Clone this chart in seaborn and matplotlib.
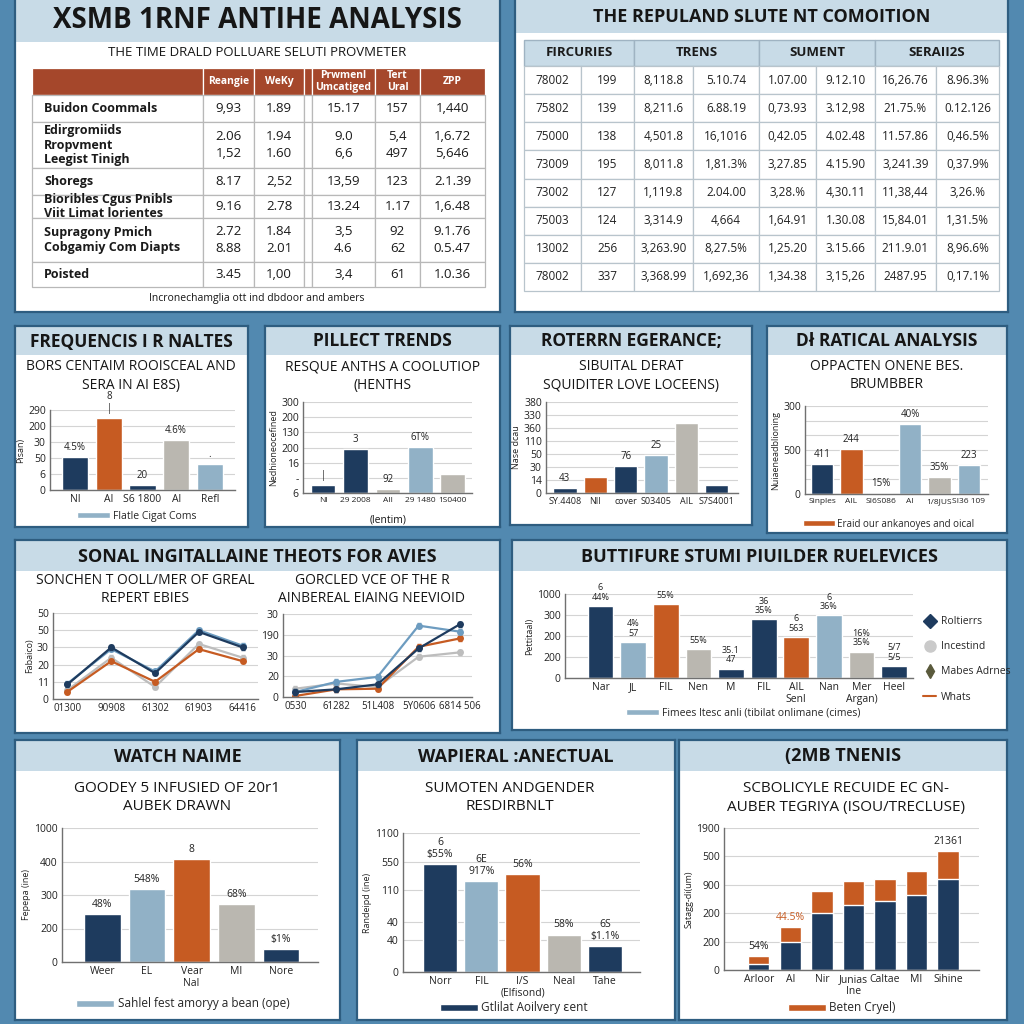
import matplotlib
matplotlib.use("Agg")
import matplotlib.pyplot as plt
from matplotlib.patches import Rectangle, Patch
from matplotlib.lines import Line2D
import pandas as pd
import seaborn as sns

# ---------------- data ----------------
# top-left table
lt_heads = ['', 'Reangie', 'WeKy', '', 'Prwmenl\nUmcatiged', 'Tert\nUral', 'ZPP']
lt_names = ['Buidon Coommals', 'Edirgromiids\nRropvment\nLeegist Tinigh', 'Shoregs',
            'Bioribles Cgus Pnibls\nViit Limat lorientes', 'Supragony Pmich\nCobgamiy Com Diapts',
            'Poisted']
lt_reangie = ['9,93', '2.06\n1,52', '8.17', '9.16', '2.72\n8.88', '3.45']
lt_weky = ['1.89', '1.94\n1.60', '2,52', '2.78', '1.84\n2.01', '1,00']
lt_prw = ['15.17', '9.0\n6,6', '13,59', '13.24', '3,5\n4.6', '3,4']
lt_tert = ['157', '5,4\n497', '123', '1.17', '92\n62', '61']
lt_zpp = ['1,440', '1,6.72\n5,646', '2.1.39', '1,6.48', '9.1.76\n0.5.47', '1.0.36']

# top-right table
rt_heads = ['FIRCURIES', 'TRENS', 'SUMENT', 'SERAII2S']
rt_fir_a = ['78002', '75802', '75000', '73009', '73002', '75003', '13002', '78002']
rt_fir_b = ['199', '139', '138', '195', '127', '124', '256', '337']
rt_tre_a = ['8,118.8', '8,211.6', '4,501.8', '8,011.8', '1,119.8', '3,314.9', '3,263.90', '3,368.99']
rt_tre_b = ['5.10.74', '6.88.19', '16,1016', '1,81.3%', '2.04.00', '4,664', '8,27.5%', '1,692,36']
rt_sum_a = ['1.07.00', '0,73.93', '0,42.05', '3,27.85', '3,28.%', '1,64.91', '1,25.20', '1,34.38']
rt_sum_b = ['9.12.10', '3.12,98', '4.02.48', '4.15.90', '4,30.11', '1.30.08', '3.15.66', '3,15,26']
rt_ser_a = ['16,26.76', '21.75.%', '11.57.86', '3,241.39', '11,38,44', '15,84.01', '211.9.01', '2487.95']
rt_ser_b = ['8.96.3%', '0.12.126', '0,46.5%', '0,37.9%', '3,26.%', '1,31.5%', '8,96.6%', '0,17.1%']

# row 2 bar panels
a_names = ['NI', 'AI', 'S6 1800', 'Al', 'Refl']
a_values = [103, 225, 16, 156, 81]
a_notes = ['4.5%', '8\n|', '20', '4.6%', '.']

b_names = ['NI', '29 2008', 'AIl', '29 1480', '1S0400']
b_values = [26, 145, 13, 152, 63]
b_notes = ['|', '3', '92', '6T%', '']

c_names = ['SY.4408', 'NII', 'cover', 'S03405', 'AIL', 'S7S4001']
c_values = [19, 62, 104, 146, 270, 31]
c_notes = ['43', '', '76', '25', '', '']

d_names = ['Sinples', 'AIL', 'SI6S086', 'AI', '1/8JUS', 'SI36 109']
d_values = [102, 153, 3, 239, 58, 99]
d_notes = ['411', '244', '15%', '40%', '35%', '223']

# row 3 line panels
e1_x = ['01300', '90908', '61302', '61903', '64416']
e1_navy = [8.5, 30, 15, 39, 30]
e1_lblue = [9, 29, 16, 40, 31]
e1_orange = [4.2, 22, 10, 29, 22]
e1_gray = [5.2, 24, 7, 32, 24]

e2_x = ['0530', '61282', '51L408', '5Y0606', '6814 506']
e2_lblue = [2.4, 7.3, 9.7, 34.4, 31.5]
e2_navy = [2.4, 3.7, 6.1, 23.4, 35]
e2_orange = [0.5, 3.7, 4.0, 24.2, 28.2]
e2_gray = [4.0, 6.5, 4.8, 19.4, 21.5]

f_names = ['Nar', 'JL', 'FIL', 'Nen', 'M', 'FIL', 'AIL\nSenl', 'Nan', 'Mer\nArgan)', 'Heel']
f_values = [343, 171, 352, 137, 45, 279, 194, 298, 126, 58]
f_notes = ['6\n44%', '4%\n57', '55%', '55%', '35.1\n47', '36\n35%', '6\n563', '6\n36%', '16%\n35%', '5/7\n5/5']

# row 4 bar panels
g_names = ['Weer', 'EL', 'Vear\nNal', 'MI', 'Nore']
g_values = [142, 217, 307, 173, 39]
g_notes = ['48%', '548%', '8', '68%', '$1%']

h_names = ['Norr', 'FIL', 'I/S\n(Elfisond)', 'Neal', 'Tahe']
h_values = [77.5, 65.7, 70.7, 26.9, 18.7]
h_notes = ['6\n$55%', '6E\n917%', '56%', '58%', '6S\n$1.1%']

i_names = ['Arloor', 'AI', 'Nir', 'Junias\nIne', 'Caltae', 'MI', 'Sihine']
i_navy = [21, 99, 201, 228, 242, 264, 319]
i_orange = [27, 51, 77, 85, 80, 84, 100]
i_notes = ['54%', '44.5%', '', '', '', '', '21361']

# ---------------- style ----------------
NAVY = '#1e3b5e'
ORANGE = '#c65b22'
LBLUE = '#91b1c6'
GRAY = '#bab7b0'
RUST = '#a5472b'
BG = '#5289b0'
HEAD = '#c8dbe7'
INK = '#161616'

sns.set_theme(style="whitegrid")
plt.rcParams['font.family'] = ['Open Sans', 'DejaVu Sans']

W = H = 1024
fig = plt.figure(figsize=(10.24, 10.24), dpi=100, facecolor=BG)


def px_box(x0, y0, x1, y1):
    return [x0 / W, 1 - y1 / H, (x1 - x0) / W, (y1 - y0) / H]


def put_text(x, y, s, size=10, weight='normal', color=INK, **kw):
    fig.text(x / W, 1 - y / H, s, ha='center', va='center', fontsize=size,
             fontweight=weight, color=color, **kw)


def make_panel(x0, y0, x1, y1, title, bar_h=30, size=13):
    ax = fig.add_axes(px_box(x0, y0, x1, y1), zorder=0)
    ax.set_xlim(0, x1 - x0)
    ax.set_ylim(y1 - y0, 0)
    ax.set_facecolor('white')
    ax.set_xticks([])
    ax.set_yticks([])
    ax.grid(False)
    for s in ax.spines.values():
        s.set_edgecolor('#2e5d80')
        s.set_linewidth(1.6)
    ax.add_patch(Rectangle((0, 0), x1 - x0, bar_h, facecolor=HEAD, lw=0))
    ax.text((x1 - x0) / 2, bar_h / 2 + 1, title, ha='center', va='center',
            fontsize=size, fontweight='bold', color=INK)
    return ax


def new_chart(x0, y0, x1, y1):
    ax = fig.add_axes(px_box(x0, y0, x1, y1), zorder=2)
    ax.set_facecolor('none')
    return ax


def style_chart(ax, yticks, ylabels, ylabel, xlim, xsize=7.5):
    ax.grid(False)
    ax.grid(axis='y', color='#d4d4d4', lw=0.8)
    ax.set_axisbelow(True)
    for k in ('top', 'right'):
        ax.spines[k].set_visible(False)
    for k in ('left', 'bottom'):
        ax.spines[k].set_color('#707070')
        ax.spines[k].set_linewidth(1)
    ax.set_ylim(yticks[0], yticks[-1])
    ax.set_yticks(yticks)
    ax.set_yticklabels(ylabels)
    ax.set_xlim(*xlim)
    ax.tick_params(axis='both', labelsize=7.5, length=0, pad=3, colors='#222222')
    ax.tick_params(axis='x', labelsize=xsize)
    ax.set_xlabel('')
    ax.set_ylabel(ylabel, fontsize=6.5, labelpad=2, color='#222222')


def draw_bars(ax, names, values, colors, width):
    df = pd.DataFrame({'key': [str(i) for i in range(len(values))], 'val': values})
    sns.barplot(data=df, x='key', y='val', hue='key', palette=colors, legend=False,
                width=width, saturation=1, ax=ax)
    ax.set_xticks(range(len(names)))
    ax.set_xticklabels(names, linespacing=1.1)


def add_notes(ax, values, notes, color='#222222', size=7):
    for i, (v, t) in enumerate(zip(values, notes)):
        if t:
            ax.annotate(t, (i, v), xytext=(0, 3), textcoords='offset points', ha='center',
                        va='bottom', fontsize=size, color=color, linespacing=1.1,
                        annotation_clip=False)


def patch_legend(x, y, color, label, size=7.5):
    fig.legend(handles=[Patch(facecolor=color, label=label)], loc='center',
               bbox_to_anchor=(x / W, 1 - y / H), frameon=False, fontsize=size,
               handlelength=3.2, handleheight=0.55, handletextpad=0.3)


# ---------------- row 1: tables ----------------
make_panel(15, -2, 500, 312, 'XSMB 1RNF ANTIHE ANALYSIS', bar_h=44, size=20)
put_text(257, 53, 'THE TIME DRALD POLLUARE SELUTI PROVMETER', size=9.5)
put_text(257, 298, 'Incronechamglia ott ind dbdoor and ambers', size=7.5)

lt_ax = fig.add_axes(px_box(32, 68, 485, 287), zorder=2)
lt_ax.axis('off')
lt_rows = [list(r) for r in zip(lt_names, lt_reangie, lt_weky, [''] * len(lt_names),
                                 lt_prw, lt_tert, lt_zpp)]
tbl = lt_ax.table(cellText=lt_rows, colLabels=lt_heads, colWidths=[171, 51, 50, 8, 63, 45, 65],
                  bbox=[0, 0, 1, 1], cellLoc='center')
tbl.auto_set_font_size(False)
tbl.set_fontsize(9.5)
lt_row_h = [27, 27, 46, 27, 23, 44, 25]
for (r, c), cell in tbl.get_celld().items():
    cell.set_height(lt_row_h[r])
    cell.set_edgecolor('#b8b8b8')
    cell.set_linewidth(0.9)
    txt = cell.get_text()
    txt.set_linespacing(1.35)
    txt.set_color('#1a1a1a')
    if r == 0:
        cell.set_facecolor(RUST)
        cell.set_edgecolor('white')
        txt.set_color('white')
        txt.set_fontweight('bold')
        txt.set_fontsize(7.5)
        txt.set_linespacing(1.1)
    elif c == 0:
        cell._loc = 'left'
        cell.PAD = 0.07
        txt.set_horizontalalignment('left')
        txt.set_fontweight('bold')
        txt.set_fontsize(9)
        txt.set_linespacing(1.15)

make_panel(515, -2, 1008, 312, 'THE REPULAND SLUTE NT COMOITION', bar_h=35, size=13)
rh_ax = fig.add_axes(px_box(524, 40, 999, 66), zorder=2)
rh_ax.axis('off')
hdr = rh_ax.table(cellText=[rt_heads], colWidths=[110, 125, 116, 124], bbox=[0, 0, 1, 1],
                  cellLoc='center')
hdr.auto_set_font_size(False)
hdr.set_fontsize(9.5)
for (r, c), cell in hdr.get_celld().items():
    cell.set_facecolor(HEAD)
    cell.set_edgecolor('#9fb3c2')
    cell.get_text().set_fontweight('bold')
    cell.get_text().set_color('#1a1a1a')

rb_ax = fig.add_axes(px_box(524, 66, 999, 291), zorder=2)
rb_ax.axis('off')
rt_rows = [list(r) for r in zip(rt_fir_a, rt_fir_b, rt_tre_a, rt_tre_b,
                                 rt_sum_a, rt_sum_b, rt_ser_a, rt_ser_b)]
body = rb_ax.table(cellText=rt_rows, colWidths=[57, 53, 59, 66, 57, 59, 61, 63],
                   bbox=[0, 0, 1, 1], cellLoc='center')
body.auto_set_font_size(False)
body.set_fontsize(8.5)
for (r, c), cell in body.get_celld().items():
    cell.set_edgecolor('#b8c4cc')
    cell.set_linewidth(0.9)
    cell.get_text().set_color('#222222')

# ---------------- row 2: small bar panels ----------------
make_panel(15, 326, 248, 527, 'FREQUENCIS I R NALTES', bar_h=29, size=12.5)
put_text(131, 366, 'BORS CENTAIM ROOISCEAL AND', size=10)
put_text(131, 385, 'SERA IN AI E8S)', size=10)
ax = new_chart(50, 410, 235, 490)
draw_bars(ax, a_names, a_values, [NAVY, ORANGE, NAVY, GRAY, LBLUE], 0.78)
style_chart(ax, [0, 50, 100, 150, 200, 250], ['0', '6', '50', '30', '200', '290'],
            'Pisan)', (-0.75, 4.75))
add_notes(ax, a_values, a_notes)
patch_legend(137, 516, LBLUE, 'Flatle Cigat Coms')

make_panel(265, 326, 500, 527, 'PILLECT TRENDS', bar_h=29, size=12.5)
put_text(383, 367, 'RESQUE ANTHS A COOLUTIOP', size=10)
put_text(383, 385, '(HENTHS', size=10)
ax = new_chart(303, 402, 472, 493)
draw_bars(ax, b_names, b_values, [NAVY, NAVY, GRAY, LBLUE, GRAY], 0.76)
style_chart(ax, [0, 50, 100, 150, 200, 250, 300], ['6', '-', '16', '200', '130', '200', '300'],
            'Nedhioneocefined', (-0.62, 4.6), xsize=6)
add_notes(ax, b_values, b_notes)
put_text(388, 520, '(lentim)', size=7.5)

make_panel(510, 326, 752, 525, 'ROTERRN EGERANCE;', bar_h=29, size=12.5)
put_text(631, 367, 'SIBUITAL DERAT', size=10)
put_text(631, 385, 'SQUIDITER LOVE LOCEENS)', size=10)
ax = new_chart(546, 402, 738, 493)
draw_bars(ax, c_names, c_values, [NAVY, ORANGE, NAVY, LBLUE, GRAY, NAVY], 0.77)
style_chart(ax, [0, 50, 100, 150, 200, 250, 300, 350],
            ['0', '14', '30', '50', '110', '360', '330', '380'], 'Nase dcau', (-0.62, 5.7),
            xsize=6.5)
add_notes(ax, c_values, c_notes)

make_panel(767, 326, 1007, 533, 'Dł RATICAL ANALYSIS', bar_h=29, size=12.5)
put_text(887, 367, 'OPPACTEN ONENE BES.', size=10)
put_text(887, 385, 'BRUMBBER', size=10)
ax = new_chart(805, 406, 988, 494)
draw_bars(ax, d_names, d_values, [NAVY, ORANGE, GRAY, LBLUE, GRAY, LBLUE], 0.76)
style_chart(ax, [0, 50, 100, 150, 200, 250, 300], ['0', '', '', '500', '', '', '300'],
            'Nuiaeneadblioning', (-0.58, 5.65), xsize=6)
add_notes(ax, d_values, d_notes)
patch_legend(889, 524, ORANGE, 'Eraid our ankanoyes and oical', size=7)

# ---------------- row 3 ----------------
make_panel(15, 540, 500, 733, 'SONAL INGITALLAINE THEOTS FOR AVIES', bar_h=31, size=13)
put_text(145, 580, 'SONCHEN T OOLL/MER OF GREAL', size=10)
put_text(145, 598, 'REPERT EBIES', size=10)
put_text(372, 580, 'GORCLED VCE OF THE R', size=10)
put_text(372, 598, 'AINBEREAL EIAING NEEVIOID', size=10)

line_sets = [
    (new_chart(53, 613, 258, 699), e1_x, [(e1_gray, '#bdbdbd'), (e1_orange, ORANGE),
                                          (e1_lblue, '#6d9cc0'), (e1_navy, NAVY)]),
    (new_chart(283, 614, 472, 697), e2_x, [(e2_gray, '#bdbdbd'), (e2_orange, ORANGE),
                                           (e2_lblue, '#6d9cc0'), (e2_navy, NAVY)]),
]
for ax, xs, series in line_sets:
    for ys, col in series:
        sns.lineplot(x=xs, y=ys, color=col, lw=1.6, marker='o', markersize=5,
                     markeredgewidth=0, ax=ax, sort=False)
        ax.errorbar(xs, ys, yerr=1.3, fmt='none', ecolor=col, elinewidth=1, capsize=1.5)
style_chart(line_sets[0][0], [0, 10, 20, 30, 40, 50], ['0', '11', '20', '30', '50', '50'],
            'Fabaico)', (-0.33, 4.35), xsize=7)
style_chart(line_sets[1][0], [0, 10, 20, 30, 40], ['0', '20', '30', '190', '30'], '',
            (-0.3, 4.3), xsize=7)

make_panel(512, 540, 1007, 730, 'BUTTIFURE STUMI PIUILDER RUELEVICES', bar_h=31, size=13)
ax = new_chart(565, 594, 913, 678)
draw_bars(ax, f_names, f_values,
          [NAVY, LBLUE, ORANGE, GRAY, NAVY, NAVY, ORANGE, LBLUE, GRAY, NAVY], 0.79)
style_chart(ax, [0, 100, 200, 300, 400], ['0', '200', '200', '300', '1000'], 'Pettitaal)',
            (-1.09, 9.58))
add_notes(ax, f_values, f_notes, size=6.5)
fig.legend(handles=[
    Line2D([], [], marker='D', color=NAVY, ls='', ms=7, label='Roltierrs'),
    Line2D([], [], marker='o', color='#cacaca', ls='', ms=8, label='Incestind'),
    Line2D([], [], marker='d', color='#5a5a3c', ls='', ms=7, label='Mabes Adrnes'),
    Line2D([], [], color=ORANGE, lw=1.5, label='Whats')],
    loc='upper left', bbox_to_anchor=(914 / W, 1 - 607 / H), frameon=False, fontsize=7.5,
    labelspacing=1.35, handlelength=1.2, handletextpad=0.5)
patch_legend(743, 713, LBLUE, 'Fimees ltesc anli (tibilat onlimane (cimes)')

# ---------------- row 4 ----------------
make_panel(15, 740, 340, 1020, 'WATCH NAIME', bar_h=31, size=13)
put_text(177, 788, 'GOODEY 5 INFUSIED OF 20r1', size=11)
put_text(177, 807, 'AUBEK DRAWN', size=11)
ax = new_chart(62, 828, 318, 962)
draw_bars(ax, g_names, g_values, [NAVY, LBLUE, ORANGE, GRAY, NAVY], 0.82)
style_chart(ax, [0, 100, 200, 300, 400], ['0', '200', '300', '400', '1000'], 'Fepepa (ine)',
            (-0.9, 4.83))
add_notes(ax, g_values, g_notes, size=7.5)
patch_legend(183, 1004, LBLUE, 'Sahlel fest amoryy a bean (ope)', size=8.5)

make_panel(357, 740, 675, 1020, 'WAPIERAL :ANECTUAL', bar_h=31, size=13)
put_text(510, 788, 'SUMOTEN ANDGENDER', size=11)
put_text(510, 807, 'RESDIRBNLT', size=11)
ax = new_chart(403, 833, 640, 972)
draw_bars(ax, h_names, h_values, [NAVY, LBLUE, ORANGE, GRAY, NAVY], 0.83)
style_chart(ax, [0, 23, 36, 59, 79, 100], ['0', '40', '40', '110', '550', '1100'],
            'Randeipd (ine)', (-0.9, 4.85))
add_notes(ax, h_values, h_notes, size=7.5)
patch_legend(514, 1008, NAVY, 'Gtlilat Aoilvery ɛent', size=8.5)

make_panel(679, 740, 1007, 1020, '(2MB TNENIS', bar_h=31, size=13)
put_text(846, 788, 'SCBOLICYLE RECUIDE EC GN-', size=11)
put_text(846, 807, 'AUBER TEGRIYA (ISOU/TRECLUSE)', size=11)
ax = new_chart(724, 828, 979, 970)
i_total = [n + o for n, o in zip(i_navy, i_orange)]
i_keys = [str(k) for k in range(len(i_navy))]
sns.barplot(x=i_keys, y=i_total, color=ORANGE, saturation=1, width=0.68, ax=ax)
sns.barplot(x=i_keys, y=i_navy, color=NAVY, saturation=1, width=0.68, ax=ax)
ax.set_xticks(range(len(i_names)))
ax.set_xticklabels(i_names, linespacing=1.1)
style_chart(ax, [0, 100, 200, 300, 400, 500], ['0', '200', '200', '900', '500', '1900'],
            'Satagg-di(um)', (-1.1, 6.98))
add_notes(ax, i_total, i_notes, size=7.5)
ax.texts[1].set_color(ORANGE)
patch_legend(842, 1008, ORANGE, 'Beten Cryel)', size=8.5)

fig.savefig('out.png', dpi=100, facecolor=BG)
